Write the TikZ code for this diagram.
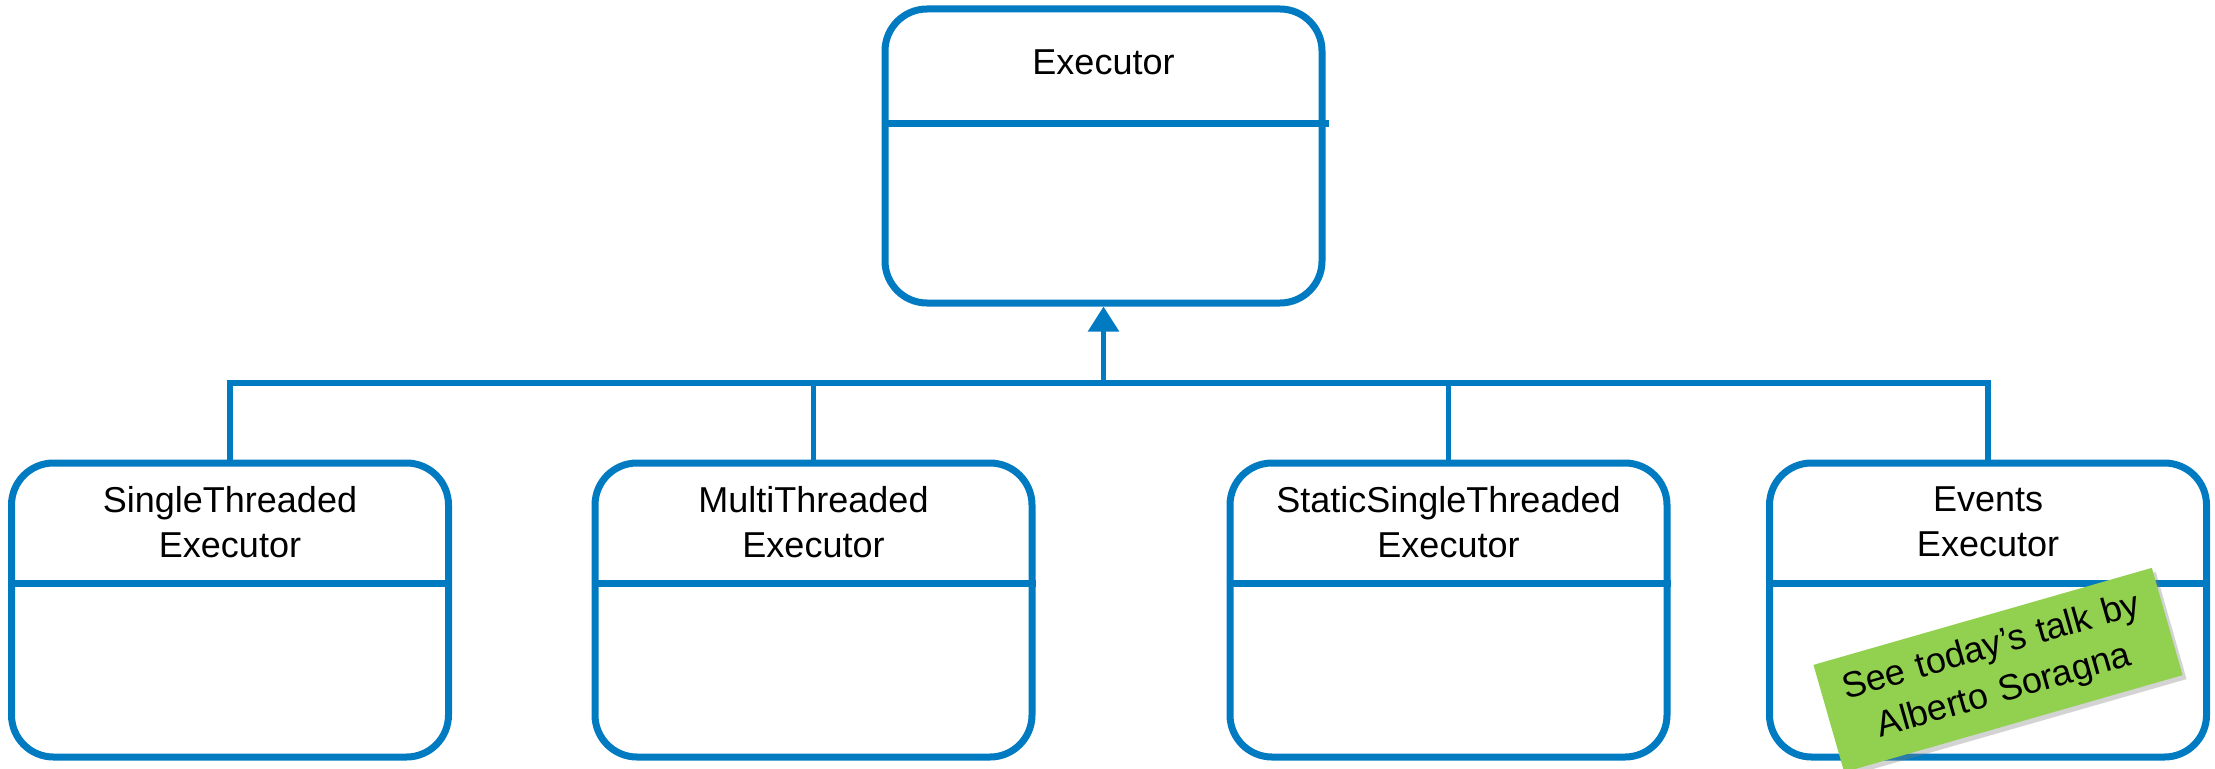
\documentclass[tikz,border=0pt]{standalone}
\usepackage{fontspec}
\setmainfont{Liberation Sans}
\usetikzlibrary{arrows.meta,positioning,calc,shadows}
\definecolor{umlblue}{RGB}{0,122,192}
\definecolor{notegreen}{RGB}{146,208,80}

\begin{document}
\begin{tikzpicture}[x=1pt,y=-1pt]

\tikzstyle{classbox} = [draw=umlblue, line width=7pt, rounded corners=42pt, minimum width=437pt, minimum height=294pt, inner sep=0pt]
\tikzstyle{classname} = [font=\fontsize{36}{45}\selectfont, align=center]
\tikzstyle{divider} = [draw=umlblue, line width=7pt]
\tikzstyle{link} = [draw=umlblue, line width=5.5pt]
\tikzstyle{notebox} = [fill=notegreen, font=\fontsize{36}{46}\selectfont, align=center, text width=312pt, inner xsep=20pt, inner ysep=16pt, drop shadow={opacity=0.35, shadow xshift=4pt, shadow yshift=-4pt}]

\useasboundingbox (0,0) rectangle (2215,768);

\begin{scope}
\node[classbox](executor) at (1103.5,156) {};
\node[classname](executor-name) at (1103.5,62) {Executor};
\draw[divider] ($(executor.north west)+(0,117.5)$) -- ($(executor.north east)+(3,117.5)$);
\end{scope}

\begin{scope}
\node[classbox](single) at (230,610) {};
\node[classname](single-name) at (230,522) {SingleThreaded\\Executor};
\draw[divider] ($(single.north west)+(0,123.5)$) -- ($(single.north east)+(0,123.5)$);

\node[classbox](multi) at (813.5,610) {};
\node[classname](multi-name) at (813.5,522) {MultiThreaded\\Executor};
\draw[divider] ($(multi.north west)+(0,123.5)$) -- ($(multi.north east)+(0,123.5)$);

\node[classbox](static) at (1448.5,610) {};
\node[classname](static-name) at (1448.5,522) {StaticSingleThreaded\\Executor};
\draw[divider] ($(static.north west)+(0,123.5)$) -- ($(static.north east)+(0,123.5)$);

\node[classbox](events) at (1988,610) {};
\node[classname](events-name) at (1988,522) {Events\\Executor};
\draw[divider] ($(events.north west)+(0,123.5)$) -- ($(events.north east)+(0,123.5)$);
\end{scope}

\coordinate (bus) at (1103.5,383);
\draw[link] (single.north) -- (single.north |- bus) -- (events.north |- bus) -- (events.north);
\draw[link] (multi.north) -- (multi.north |- bus);
\draw[link] (static.north) -- (static.north |- bus);
\draw[link,-{Triangle[width=30pt,length=25pt]}] (bus) -- (executor.south);

\node[notebox, rotate=16](note) at (1998,670) {See today’s talk by\\Alberto Soragna};

\end{tikzpicture}
\end{document}
